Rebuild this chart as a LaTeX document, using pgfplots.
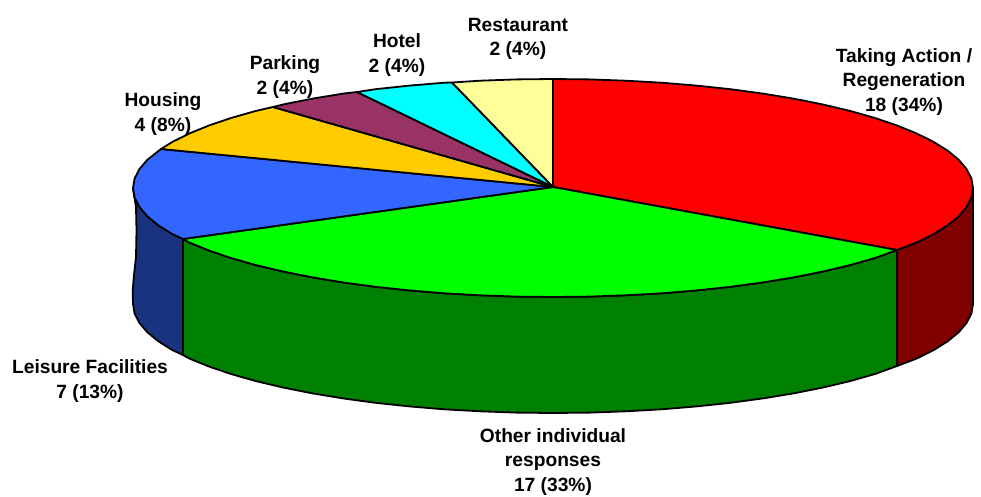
\documentclass[border=0pt]{standalone}
\usepackage{pgfplots}
\pgfplotsset{compat=1.18}
\usepackage{fontspec}
\setmainfont{Liberation Sans}
\definecolor{cRed}{HTML}{FF0000}
\definecolor{cRedD}{HTML}{800000}
\definecolor{cGreen}{HTML}{00FF00}
\definecolor{cGreenD}{HTML}{008000}
\definecolor{cBlue}{HTML}{3366FF}
\definecolor{cBlueD}{HTML}{1A3380}
\definecolor{cOrange}{HTML}{FFCC00}
\definecolor{cPlum}{HTML}{993366}
\definecolor{cCyan}{HTML}{00FFFF}
\definecolor{cYellow}{HTML}{FFFF99}
\tikzset{lab/.style={font=\fontsize{19.2}{24.5}\selectfont\bfseries, align=center, anchor=center, inner sep=0pt, text=black}}
\begin{document}
\begin{tikzpicture}
\begin{axis}[
  name=ax,
  scale only axis, width=981pt, height=496pt,
  xmin=0, xmax=981, ymin=0, ymax=496, y dir=reverse,
  hide axis, clip=false,
  every axis plot/.append style={draw=black, line width=1.8pt, line join=round, no markers, forget plot}
]
% walls
\addplot[fill=cBlueD] coordinates {(183,239)(172.4,234.1)(158.3,225.3)(147.3,216.2)(139.4,206.9)(134.6,197.5)(133,188)
 (134,195)(136,207)(136.5,230)(136,257)(134,275)(132.7,290)(133,304)
 (134.6,313.5)(139.4,322.9)(147.3,332.2)(158.3,341.3)(172.4,350.1)(183,355)} --cycle;
\addplot[fill=cGreenD] coordinates {(897,250)(874.7,258.1)(850,265.1)(823,271.5)(793.9,277.3)(763,282.4)(730.5,286.8)(696.6,290.4)(661.7,293.3)(625.9,295.3)(589.6,296.6)(553,297)(516.4,296.6)(480.1,295.3)(444.3,293.3)(409.4,290.4)(375.5,286.8)(343,282.4)(312.1,277.3)(283,271.5)(256,265.1)(231.3,258.1)(208.9,250.5)(189.3,242.5)(183,239)
 (183,355)(189.3,358.5)(208.9,366.5)(231.3,374.1)(256,381.1)(283,387.5)(312.1,393.3)(343,398.4)(375.5,402.8)(409.4,406.4)(444.3,409.3)(480.1,411.3)(516.4,412.6)(553,413)(589.6,412.6)(625.9,411.3)(661.7,409.3)(696.6,406.4)(730.5,402.8)(763,398.4)(793.9,393.3)(823,387.5)(850,381.1)(874.7,374.1)(897,366)} --cycle;
\addplot[fill=cRedD] coordinates {(973,188)(971.4,197.5)(966.6,206.9)(958.7,216.2)(947.7,225.3)(933.6,234.1)(916.7,242.5)(897,250)
 (897,366)(916.7,358.5)(933.6,350.1)(947.7,341.3)(958.7,332.2)(966.6,322.9)(971.4,313.5)(973,304)} --cycle;
% top slices
\addplot[fill=cRed] coordinates {(553,187)(553,79)(589.6,79.4)(625.9,80.7)(661.7,82.7)(696.6,85.6)(730.5,89.2)(763,93.6)(793.9,98.7)(823,104.5)(850,110.9)(874.7,117.9)(897.1,125.5)(916.7,133.5)(933.6,141.9)(947.7,150.7)(958.7,159.8)(966.6,169.1)(971.4,178.5)(973,188)(971.4,197.5)(966.6,206.9)(958.7,216.2)(947.7,225.3)(933.6,234.1)(916.7,242.5)(897,250)} --cycle;
\addplot[fill=cGreen] coordinates {(553,187)(897,250)(874.7,258.1)(850,265.1)(823,271.5)(793.9,277.3)(763,282.4)(730.5,286.8)(696.6,290.4)(661.7,293.3)(625.9,295.3)(589.6,296.6)(553,297)(516.4,296.6)(480.1,295.3)(444.3,293.3)(409.4,290.4)(375.5,286.8)(343,282.4)(312.1,277.3)(283,271.5)(256,265.1)(231.3,258.1)(208.9,250.5)(189.3,242.5)(183,239)} --cycle;
\addplot[fill=cBlue] coordinates {(553,187)(183,239)(172.4,234.1)(158.3,225.3)(147.3,216.2)(139.4,206.9)(134.6,197.5)(133,188)(134.6,178.5)(139.4,169.1)(147.3,159.8)(161,149)} --cycle;
\addplot[fill=cOrange] coordinates {(553,187)(161,149)(172.4,141.9)(189.3,133.5)(208.9,125.5)(231.3,117.9)(256,110.9)(273,107)} --cycle;
\addplot[fill=cPlum] coordinates {(553,187)(273,107)(283,104.5)(312.1,98.7)(343,93.6)(357,92)} --cycle;
\addplot[fill=cCyan] coordinates {(553,187)(357,92)(375.5,89.2)(409.4,85.6)(444.3,82.7)(452,82.5)} --cycle;
\addplot[fill=cYellow] coordinates {(553,187)(452,82.5)(480.1,80.7)(516.4,79.4)(553,79)} --cycle;
% labels
\node[lab] at (axis cs:904,82) {Taking Action /\\Regeneration\\18 (34\%)};
\node[lab] at (axis cs:518,39) {Restaurant\\2 (4\%)};
\node[lab] at (axis cs:397,55) {Hotel\\2 (4\%)};
\node[lab] at (axis cs:285,77) {Parking\\2 (4\%)};
\node[lab] at (axis cs:163,114) {Housing\\4 (8\%)};
\node[lab] at (axis cs:90,381) {Leisure Facilities\\7 (13\%)};
\node[lab] at (axis cs:553,462) {Other individual\\responses\\17 (33\%)};
\end{axis}
\pgfresetboundingbox
\path[use as bounding box] (ax.south west) rectangle (ax.north east);
\end{tikzpicture}
\end{document}
